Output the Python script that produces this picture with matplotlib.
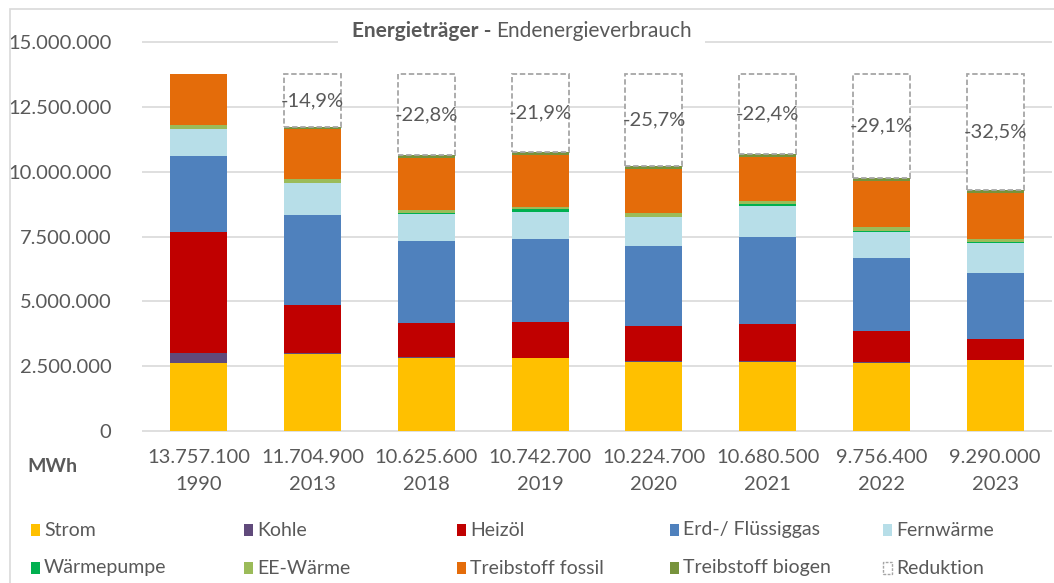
import matplotlib
matplotlib.use("Agg")
import matplotlib.pyplot as plt
from matplotlib.patches import Rectangle

plt.rcParams['font.family'] = ['Lato', 'DejaVu Sans']

# Daten (MWh)
jahre = ['1990', '2013', '2018', '2019', '2020', '2021', '2022', '2023']
gesamt = [13757100, 11704900, 10625600, 10742700, 10224700, 10680500, 9756400, 9290000]

strom = [2635000, 2970000, 2800000, 2820000, 2670000, 2670000, 2640000, 2730000]
kohle = [386000, 20000, 40000, 10000, 10000, 10000, 5000, 5000]
heizoel = [4668000, 1860000, 1340000, 1380000, 1350000, 1440000, 1205000, 820000]
erdgas = [2930000, 3460000, 3150000, 3200000, 3110000, 3360000, 2830000, 2530000]
fernwaerme = [1030000, 1250000, 1030000, 1050000, 1110000, 1210000, 1010000, 1170000]
waermepumpe = [10000, 20000, 40000, 90000, 20000, 50000, 20000, 20000]
ee_waerme = [140000, 140000, 140000, 90000, 130000, 120000, 140000, 120000]
treib_fossil = [1958100, 1924900, 1975600, 2002700, 1714700, 1720500, 1806400, 1795000]
treib_biogen = [0, 60000, 110000, 100000, 110000, 100000, 100000, 100000]

serien = [
    ('Strom', strom, '#FFC000'),
    ('Kohle', kohle, '#604A7B'),
    ('Heizöl', heizoel, '#C00000'),
    ('Erd-/ Flüssiggas', erdgas, '#4F81BD'),
    ('Fernwärme', fernwaerme, '#B7DEE8'),
    ('Wärmepumpe', waermepumpe, '#00B050'),
    ('EE-Wärme', ee_waerme, '#9BBB59'),
    ('Treibstoff fossil', treib_fossil, '#E46C0A'),
    ('Treibstoff biogen', treib_biogen, '#77933C'),
]

grau = '#595959'
gitter = '#D9D9D9'

fig = plt.figure(figsize=(10.54, 5.83), dpi=100)
W, H = 1054, 583

# Rahmen um das Diagramm
fig.patches.append(Rectangle((10 / W, -0.05), 1.1, 1 - 9 / H + 0.05, transform=fig.transFigure,
                             fill=False, edgecolor=gitter, linewidth=1.2, zorder=0))

ymin, ymax = -0.05e6, 15.05e6
px_per = 389 / 15e6
ax = fig.add_axes([142 / W, 1 - (431 + 0.05e6 * px_per) / H, 910 / W, (ymax - ymin) * px_per / H])

x = list(range(len(jahre)))
unten = [0] * len(jahre)
for name, werte, farbe in serien:
    ax.bar(x, werte, 0.5, bottom=unten, color=farbe, linewidth=0, zorder=2)
    unten = [u + v for u, v in zip(unten, werte)]

# Reduktion gegenüber 1990 (nur ab 2013)
reduktion = [gesamt[0] - g for g in gesamt]
ax.bar(x[1:], reduktion[1:], 0.5, bottom=gesamt[1:], facecolor='white', edgecolor='#A6A6A6',
       linewidth=1.3, linestyle=(0, (3, 1.5)), zorder=2)
for i in range(1, len(jahre)):
    pct = (gesamt[i] / gesamt[0] - 1) * 100
    txt = f"{pct:.1f}%".replace('.', ',')
    ax.text(x[i], gesamt[i] + reduktion[i] / 2, txt, ha='center', va='center',
            fontsize=14.5, color=grau, zorder=3)

ax.set_xlim(-0.5, len(jahre) - 0.5)
ax.set_ylim(ymin, ymax)
yt = [0, 2500000, 5000000, 7500000, 10000000, 12500000, 15000000]
ax.set_yticks(yt)
ax.set_yticklabels([f"{v:,}".replace(',', '.') for v in yt])
ax.set_xticks(x)
ax.set_xticklabels([f"{g:,}".replace(',', '.') + '\n' + j for g, j in zip(gesamt, jahre)],
                   linespacing=1.75)
ax.tick_params(axis='y', length=0, pad=22, labelsize=14.5, labelcolor=grau)
ax.tick_params(axis='x', length=0, pad=12, labelsize=14.5, labelcolor=grau)
ax.grid(axis='y', color=gitter, linewidth=1.2, zorder=0)
ax.set_axisbelow(True)
for s in ax.spines.values():
    s.set_visible(False)

# Titel mit weißem Hintergrund über der obersten Gitterlinie
fig.patches.append(Rectangle((338 / W, 1 - 52 / H), 367 / W, 36 / H, transform=fig.transFigure,
                             facecolor='white', edgecolor='none', zorder=5))
fig.text(491 / W, 1 - 31 / H, 'Energieträger -', ha='right', va='center',
         fontsize=15, fontweight='bold', color=grau, zorder=6)
fig.text(496 / W, 1 - 31 / H, 'Endenergieverbrauch', ha='left', va='center',
         fontsize=15, color=grau, zorder=6)

fig.text(27 / W, 1 - 466 / H, 'MWh', ha='left', va='center', fontsize=14,
         fontweight='bold', color=grau)

# Legende im Raster
leg = [(n, f) for n, _, f in serien] + [('Reduktion', None)]
for k, (name, farbe) in enumerate(leg):
    lx = 31 + (k % 5) * 213
    ly = 530 + (k // 5) * 38
    if farbe is None:
        fig.patches.append(Rectangle((lx / W, 1 - (ly + 6) / H), 9 / W, 12 / H,
                                     transform=fig.transFigure, facecolor='white',
                                     edgecolor='#A6A6A6', linewidth=1, linestyle=(0, (2, 1))))
    else:
        fig.patches.append(Rectangle((lx / W, 1 - (ly + 6) / H), 9 / W, 12 / H,
                                     transform=fig.transFigure, facecolor=farbe, edgecolor='none'))
    fig.text((lx + 13) / W, 1 - ly / H, name, ha='left', va='center', fontsize=14, color=grau)

fig.savefig('out.png', dpi=100)
